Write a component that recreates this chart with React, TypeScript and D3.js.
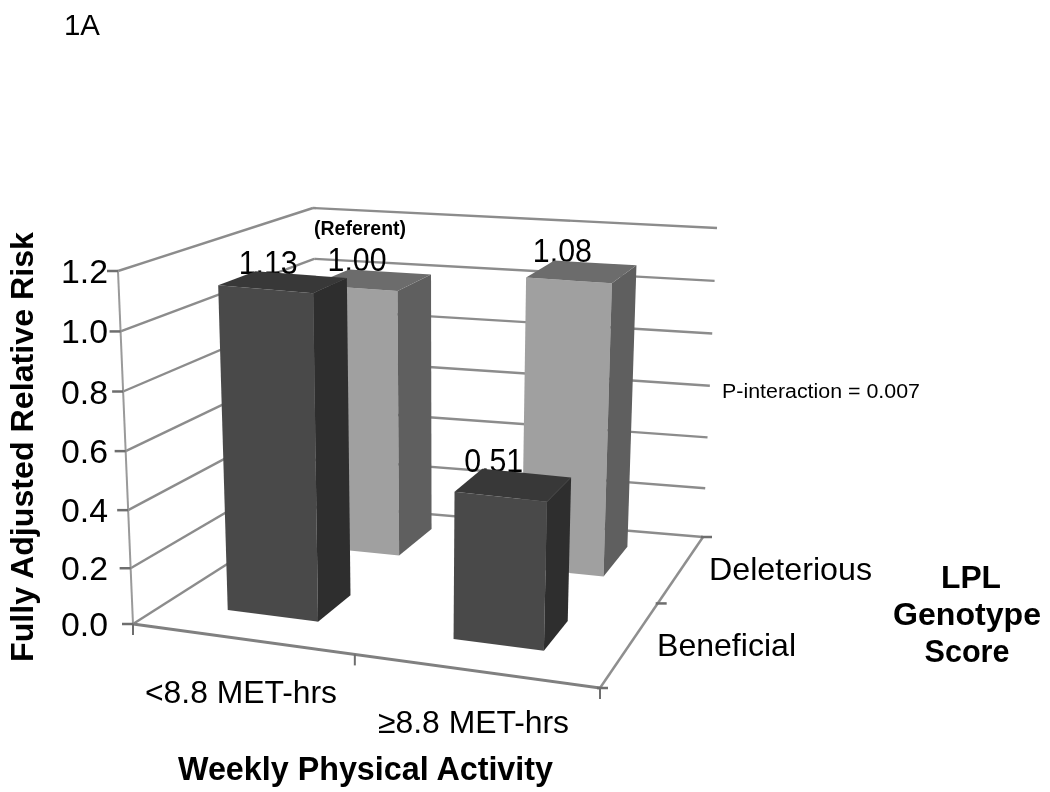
import React from "react";
import * as d3 from "d3";

const activity = ["<8.8 MET-hrs", "≥8.8 MET-hrs"];
const genotype = ["Beneficial", "Deleterious"];
const beneficialValues = [1.13, 0.51];
const deleteriousValues = [1.0, 1.08];
const yTicks = [0, 0.2, 0.4, 0.6, 0.8, 1.0, 1.2];

type P = [number, number];
const floor = { fl: [133, 624] as P, fr: [600, 688] as P, br: [703, 537] as P, bl: [320, 505] as P };
const ceil = { fl: [118, 271] as P, fr: [611, 313] as P, br: [717, 228] as P, bl: [313, 208] as P };

const bil = (c: typeof floor, u: number, v: number, i: 0 | 1) =>
  c.fl[i] * (1 - u) * (1 - v) + c.fr[i] * u * (1 - v) + c.br[i] * u * v + c.bl[i] * (1 - u) * v;

const zScale = d3.scalePow().exponent(1.03).domain([0, 1.2]).range([0, 1]);
const uScale = d3.scaleBand<string>().domain(activity).range([-0.016, 0.984]).paddingInner(0.6).paddingOuter(0.3);
const vScale = d3.scaleBand<string>().domain(genotype).range([0.03, 1.05]).paddingInner(0.6).paddingOuter(0.3);

const project = (u: number, v: number, val: number): P => {
  const t = zScale(val);
  return [
    bil(floor, u, v, 0) * (1 - t) + bil(ceil, u, v, 0) * t,
    bil(floor, u, v, 1) * (1 - t) + bil(ceil, u, v, 1) * t,
  ];
};
const line = d3.line<P>();
const poly = (pts: P[]) => line(pts)! + "Z";

const GRID = "#8c8c8c";
const TICK = "#6e6e6e";
const palette: Record<string, { front: string; side: string; top: string }> = {
  Beneficial: { front: "#4a4a4a", side: "#2d2d2d", top: "#393939" },
  Deleterious: { front: "#a0a0a0", side: "#5f5f5f", top: "#6c6c6c" },
};

function Bar({ a, g, value }: { a: string; g: string; value: number }) {
  const u0 = uScale(a)!, u1 = u0 + uScale.bandwidth();
  const v0 = vScale(g)!, v1 = v0 + vScale.bandwidth();
  const c = palette[g];
  const p = project;
  return (
    <g>
      <path d={poly([p(u0, v0, 0), p(u1, v0, 0), p(u1, v0, value), p(u0, v0, value)])} fill={c.front} />
      <path d={poly([p(u1, v0, 0), p(u1, v1, 0), p(u1, v1, value), p(u1, v0, value)])} fill={c.side} />
      <path d={poly([p(u0, v0, value), p(u1, v0, value), p(u1, v1, value), p(u0, v1, value)])} fill={c.top} />
    </g>
  );
}

const SANS = "'Liberation Sans', Arial, sans-serif";

function T({ x, y, w, size, bold, anchor, children, rotate }: any) {
  return (
    <text
      x={x}
      y={y}
      fontFamily={SANS}
      fontSize={size}
      fontWeight={bold ? 700 : 400}
      textAnchor={anchor ?? "start"}
      textLength={w}
      lengthAdjust={w ? "spacingAndGlyphs" : undefined}
      transform={rotate ? `rotate(${rotate} ${x} ${y})` : undefined}
      fill="#000"
    >
      {children}
    </text>
  );
}

export default function App() {
  const seg = (a: P, b: P, key: string, stroke = GRID, w = 2.4) => (
    <line key={key} x1={a[0]} y1={a[1]} x2={b[0]} y2={b[1]} stroke={stroke} strokeWidth={w} />
  );
  const valueLabels = [
    { text: beneficialValues[0].toFixed(2), a: 0, g: 0 },
    { text: deleteriousValues[0].toFixed(2), a: 0, g: 1 },
    { text: beneficialValues[1].toFixed(2), a: 1, g: 0 },
    { text: deleteriousValues[1].toFixed(2), a: 1, g: 1 },
  ];
  const vals = [beneficialValues, deleteriousValues];
  const labelOf = (l: { text: string; a: number; g: number }) => {
    const u = uScale(activity[l.a])! + uScale.bandwidth() / 2;
    const v = vScale(genotype[l.g])! + vScale.bandwidth();
    return project(u, v, vals[l.g][l.a]);
  };
  return (
    <svg width={1050} height={792} style={{ position: "absolute", left: 0, top: 0, background: "#fff" }}>
      <defs>
        <filter id="soft" x="-5%" y="-5%" width="110%" height="110%">
          <feGaussianBlur stdDeviation="0.5" />
        </filter>
      </defs>
      <g filter="url(#soft)">
        <T x={64} y={35} size={29} w={36}>1A</T>

        {yTicks.map((t) => seg(project(0, 1, t), project(1, 1, t), `b${t}`))}
        {yTicks.map((t) => seg(project(0, 0, t), project(0, 1, t), `l${t}`))}
        {seg(project(0, 0, 0), project(0, 0, 1.2), "yaxis", "#9a9a9a", 2)}
        {seg(project(0, 0, 0), project(1, 0, 0), "front", "#808080", 3)}
        {seg(project(1, 0, 0), project(1, 1, 0), "right", "#8f8f8f", 2.5)}

        {yTicks.map((t) => {
          const p = project(0, 0, t);
          return seg([p[0] - 11, p[1]], p, `t${t}`, TICK, 2.5);
        })}
        {[0, 0.475, 1].map((u) => {
          const p = project(u, 0, 0);
          return seg(p, [p[0], p[1] + 11], `xt${u}`, TICK, 2);
        })}
        {[0.56, 1].map((v) => {
          const p = project(1, v, 0);
          return seg([p[0] - 2, p[1]], [p[0] + 9, p[1]], `zt${v}`, TICK, 2.5);
        })}
        {(() => {
          const p = project(1, 0, 0);
          return seg([p[0] - 3, p[1]], [p[0] + 8, p[1]], "ztf", TICK, 2.5);
        })()}

        {yTicks.map((t) => {
          const p = project(0, 0, t);
          return (
            <T key={t} x={108} y={p[1] + 12} size={33} anchor="end" w={47}>
              {t.toFixed(1)}
            </T>
          );
        })}

        {valueLabels.map((l) => {
          const p = labelOf(l);
          return (
            <T key={l.text} x={p[0] - 33} y={p[1] - 1} size={33} anchor="middle" w={59}>
              {l.text}
            </T>
          );
        })}
        <T x={314} y={235} size={20} w={92} bold>(Referent)</T>

        <Bar a={activity[0]} g={genotype[1]} value={deleteriousValues[0]} />
        <Bar a={activity[1]} g={genotype[1]} value={deleteriousValues[1]} />
        <Bar a={activity[0]} g={genotype[0]} value={beneficialValues[0]} />
        <Bar a={activity[1]} g={genotype[0]} value={beneficialValues[1]} />

        <T x={145} y={703} size={32} w={192}>{activity[0]}</T>
        <T x={378} y={733} size={32} w={191}>{activity[1]}</T>
        <T x={657} y={656} size={32} w={139}>{genotype[0]}</T>
        <T x={709} y={580} size={32} w={163}>{genotype[1]}</T>
        <T x={722} y={398} size={20} w={198}>P-interaction = 0.007</T>

        <T x={33} y={662} size={31} bold w={430} rotate={-90}>Fully Adjusted Relative Risk</T>
        <T x={178} y={780} size={33} bold w={375}>Weekly Physical Activity</T>
        <T x={971} y={588} size={32} bold anchor="middle" w={60}>LPL</T>
        <T x={967} y={625} size={32} bold anchor="middle" w={148}>Genotype</T>
        <T x={967} y={662} size={32} bold anchor="middle" w={85}>Score</T>
      </g>
    </svg>
  );
}
